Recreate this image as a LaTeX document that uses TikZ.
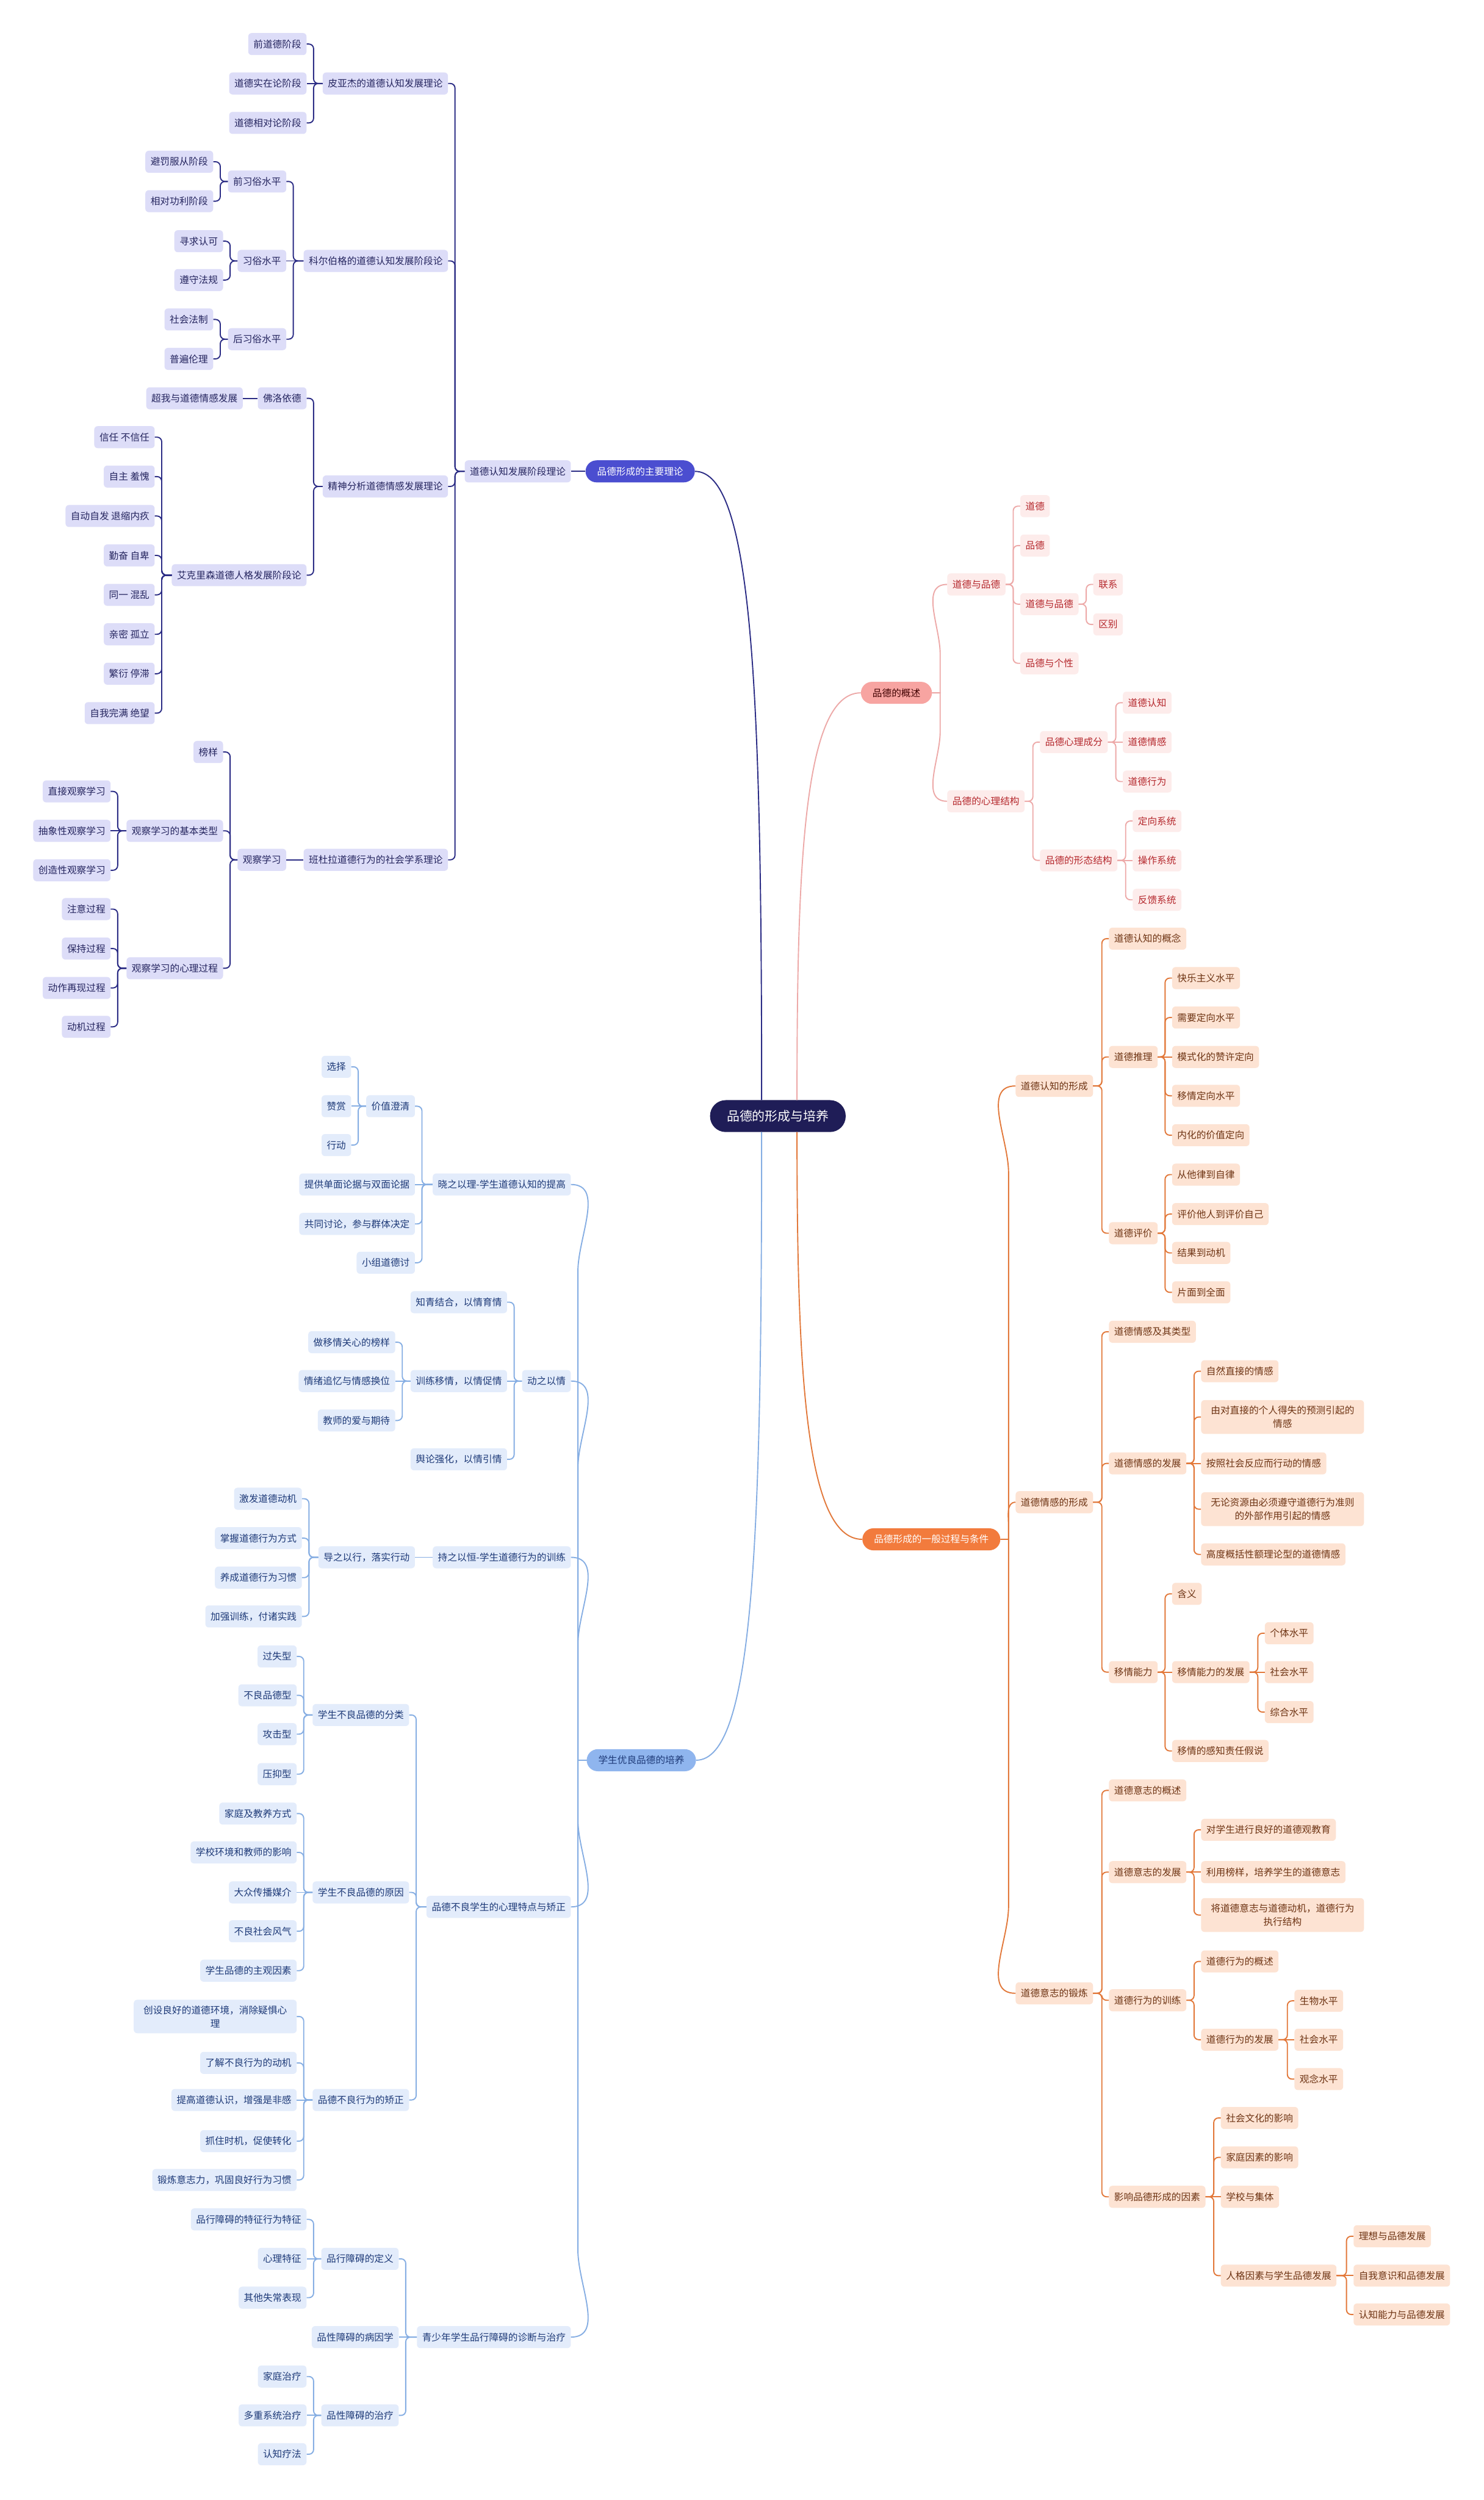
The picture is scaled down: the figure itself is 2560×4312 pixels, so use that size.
\documentclass[tikz,border=0pt]{standalone}
\usepackage{fontspec}
\newfontfamily\cjk{Noto Sans CJK SC}
\definecolor{rootc}{HTML}{1F1D57}
\definecolor{indL}{HTML}{4B4ED0}
\definecolor{indD}{HTML}{2B2C85}
\definecolor{indF}{HTML}{DDDDF8}
\definecolor{indT}{HTML}{25255F}
\definecolor{redL}{HTML}{F7A4A1}
\definecolor{redD}{HTML}{EDA9A8}
\definecolor{redF}{HTML}{FDECEB}
\definecolor{redT}{HTML}{B5282D}
\definecolor{oraL}{HTML}{F27B3D}
\definecolor{oraD}{HTML}{E2783A}
\definecolor{oraF}{HTML}{FDE3D3}
\definecolor{oraT}{HTML}{6E3414}
\definecolor{bluL}{HTML}{8FB5EE}
\definecolor{bluD}{HTML}{86AEE3}
\definecolor{bluF}{HTML}{E3ECFB}
\definecolor{bluT}{HTML}{1E3A78}
\tikzset{
  mmbox/.style={rounded corners=6pt,minimum height=38pt,inner xsep=9pt,inner ysep=10pt},
  indbox/.style={mmbox,fill=indF,text=indT},
  redbox/.style={mmbox,fill=redF,text=redT},
  orabox/.style={mmbox,fill=oraF,text=oraT},
  blubox/.style={mmbox,fill=bluF,text=bluT},
  twoline/.style={text width=263pt,align=center},
  pill/.style={rounded corners=19pt,minimum height=38pt,inner xsep=20pt},
  mmln/.style={line width=2pt,rounded corners=8pt},
  indln/.style={mmln,draw=indD},
  redln/.style={mmln,draw=redD},
  oraln/.style={mmln,draw=oraD},
  bluln/.style={mmln,draw=bluD},
}
\begin{document}
\begin{tikzpicture}[x=1pt,y=-1pt,font=\cjk\fontsize{16.5}{23}\selectfont]
\path[use as bounding box,fill=white] (0,0) rectangle (2560,4312);

\node[fill=rootc,text=white,rounded corners=27pt,minimum height=55pt,inner xsep=29pt,
  font=\cjk\fontsize{22}{26}\selectfont] (root) at (1342,1925) {品德的形成与培养};
\node[pill,fill=indL,text=white,anchor=west] (th) at (1010,813) {品德形成的主要理论};
\node[pill,fill=bluL,text=bluT,anchor=west] (py) at (1012,3036) {学生优良品德的培养};
\node[pill,fill=redL,text=black!75!red,anchor=east] (gs) at (1608,1195) {品德的概述};
\node[pill,fill=oraL,text=white,anchor=east] (gc) at (1726,2655) {品德形成的一般过程与条件};

\draw[line width=2pt,indD] (th.east) .. controls +(100,0) and +(0,-700) .. ([xshift=-28pt]root.north);
\draw[line width=2pt,bluD] ([xshift=-28pt]root.south) .. controls +(0,700) and +(100,0) .. (py.east);
\draw[line width=2pt,redD] ([xshift=33pt]root.north) .. controls +(0,-400) and +(-100,0) .. (gs.west);
\draw[line width=2pt,oraD] ([xshift=33pt]root.south) .. controls +(0,400) and +(-100,0) .. (gc.west);

% 品德形成的主要理论
\node[indbox,anchor=east] (dl) at (985,813) {道德认知发展阶段理论};
\foreach \n/\y/\t in {pa/144/皮亚杰的道德认知发展理论,kb/450/科尔伯格的道德认知发展阶段论,
    ps/839/精神分析道德情感发展理论,bd/1483/班杜拉道德行为的社会学系理论}
  \node[indbox,anchor=east] (\n) at (773,\y) {\t};
\foreach \n/\y/\t in {pa1/76/前道德阶段,pa2/144/道德实在论阶段,pa3/212/道德相对论阶段,
    fr/687/佛洛依德,er/992/艾克里森道德人格发展阶段论}
  \node[indbox,anchor=east] (\n) at (529,\y) {\t};
\foreach \n/\y/\t in {kb1/313/前习俗水平,kb2/450/习俗水平,kb3/585/后习俗水平,obs/1483/观察学习}
  \node[indbox,anchor=east] (\n) at (494,\y) {\t};
\foreach \n/\y/\t in {kb1a/279/避罚服从阶段,kb1b/347/相对功利阶段,kb3a/551/社会法制,kb3b/619/普遍伦理}
  \node[indbox,anchor=east] (\n) at (368,\y) {\t};
\foreach \n/\y/\t in {kb2a/416/寻求认可,kb2b/483/遵守法规,bd0/1297/榜样,
    bd1/1433/观察学习的基本类型,bd2/1670/观察学习的心理过程}
  \node[indbox,anchor=east] (\n) at (385,\y) {\t};
\node[indbox,anchor=east] (fr1) at (419,687) {超我与道德情感发展};
\foreach \n/\y/\t in {er1/754/信任 不信任,er2/822/自主 羞愧,er3/890/自动自发 退缩内疚,er4/958/勤奋 自卑,
    er5/1026/同一 混乱,er6/1094/亲密 孤立,er7/1162/繁衍 停滞,er8/1230/自我完满 绝望}
  \node[indbox,anchor=east] (\n) at (267,\y) {\t};
\foreach \n/\y/\t in {bd1a/1365/直接观察学习,bd1b/1433/抽象性观察学习,bd1c/1501/创造性观察学习,
    bd2a/1568/注意过程,bd2b/1636/保持过程,bd2c/1704/动作再现过程,bd2d/1771/动机过程}
  \node[indbox,anchor=east] (\n) at (191,\y) {\t};

\foreach \p/\c in {th/dl,pa/pa2,kb/kb2,fr/fr1,bd/obs,bd1/bd1b}
  \draw[indln] (\p.west) -- (\c.east);
\foreach \p/\c in {dl/pa,dl/kb,dl/ps,dl/bd,pa/pa1,pa/pa3,kb/kb1,kb/kb3,kb1/kb1a,kb1/kb1b,
    kb2/kb2a,kb2/kb2b,kb3/kb3a,kb3/kb3b,ps/fr,ps/er,er/er1,er/er2,er/er3,er/er4,er/er5,er/er6,
    er/er7,er/er8,obs/bd0,obs/bd1,obs/bd2,bd1/bd1a,bd1/bd1c,bd2/bd2a,bd2/bd2b,bd2/bd2c,bd2/bd2d}
  \draw[indln] (\p.west) -| ([xshift=12pt]\c.east) -- (\c.east);

% 学生优良品德的培养
\foreach \n/\y/\t in {xz/2043/晓之以理-学生道德认知的提高,dq/2382/动之以情,cz/2686/持之以恒-学生道德行为的训练,
    pb/3289/品德不良学生的心理特点与矫正,qs/4031/青少年学生品行障碍的诊断与治疗}
  \node[blubox,anchor=east] (\n) at (985,\y) {\t};
\foreach \n/\y/\t in {vc1/1840/选择,vc2/1908/赞赏,vc3/1975/行动}
  \node[blubox,anchor=east] (\n) at (606,\y) {\t};
\foreach \n/\y/\t in {vc/1908/价值澄清,xz2/2043/提供单面论据与双面论据,xz3/2111/共同讨论，参与群体决定,
    xz4/2178/小组道德讨,dx/2686/导之以行，落实行动}
  \node[blubox,anchor=east] (\n) at (716,\y) {\t};
\foreach \n/\y/\t in {dq1/2246/知青结合，以情育情,dq2/2382/训练移情，以情促情,dq3/2517/舆论强化，以情引情}
  \node[blubox,anchor=east] (\n) at (875,\y) {\t};
\foreach \n/\y/\t in {yq1/2315/做移情关心的榜样,yq2/2382/情绪追忆与情感换位,yq3/2450/教师的爱与期待}
  \node[blubox,anchor=east] (\n) at (682,\y) {\t};
\foreach \n/\y/\t in {dx1/2585/激发道德动机,dx2/2653/掌握道德行为方式,dx3/2721/养成道德行为习惯,dx4/2788/加强训练，付诸实践}
  \node[blubox,anchor=east] (\n) at (521,\y) {\t};
\foreach \n/\y/\t in {fl/2958/学生不良品德的分类,yy/3264/学生不良品德的原因,jz/3622/品德不良行为的矫正}
  \node[blubox,anchor=east] (\n) at (706,\y) {\t};
\foreach \n/\y/\t in {fl1/2857/过失型,fl2/2924/不良品德型,fl3/2991/攻击型,fl4/3060/压抑型,
    yy1/3128/家庭及教养方式,yy2/3195/学校环境和教师的影响,yy3/3264/大众传播媒介,yy4/3331/不良社会风气,
    yy5/3399/学生品德的主观因素,jz2/3558/了解不良行为的动机,jz3/3622/提高道德认识，增强是非感,
    jz4/3693/抓住时机，促使转化,jz5/3760/锻炼意志力，巩固良好行为习惯}
  \node[blubox,anchor=east] (\n) at (512,\y) {\t};
\node[blubox,twoline,anchor=east] (jz1) at (512,3478) {创设良好的道德环境，消除疑惧心\\理};
\foreach \n/\y/\t in {zd/3896/品行障碍的定义,by/4031/品性障碍的病因学,zl/4166/品性障碍的治疗}
  \node[blubox,anchor=east] (\n) at (688,\y) {\t};
\foreach \n/\y/\t in {zd1/3828/品行障碍的特征行为特征,zd2/3896/心理特征,zd3/3963/其他失常表现,
    zl1/4099/家庭治疗,zl2/4166/多重系统治疗,zl3/4233/认知疗法}
  \node[blubox,anchor=east] (\n) at (529,\y) {\t};

\foreach \c/\d/\a in {xz/-150/90,dq/-150/90,cz/-150/90,pb/150/-90,qs/150/-90}
  \draw[line width=2pt,bluD] (py.west) -| ([xshift=12pt,yshift=\d pt]\c.east) to[out=\a,in=0] (\c.east);
\foreach \p/\c in {xz/xz2,vc/vc2,dq/dq2,dq2/yq2,cz/dx,yy/yy3,jz/jz3,qs/by,zd/zd2,zl/zl2}
  \draw[bluln] (\p.west) -- (\c.east);
\foreach \p/\c in {xz/vc,xz/xz3,xz/xz4,vc/vc1,vc/vc3,dq/dq1,dq/dq3,dq2/yq1,dq2/yq3,dx/dx1,dx/dx2,dx/dx3,
    dx/dx4,pb/fl,pb/yy,pb/jz,fl/fl1,fl/fl2,fl/fl3,fl/fl4,yy/yy1,yy/yy2,yy/yy4,yy/yy5,jz/jz1,jz/jz2,
    jz/jz4,jz/jz5,qs/zd,qs/zl,zd/zd1,zd/zd3,zl/zl1,zl/zl3}
  \draw[bluln] (\p.west) -| ([xshift=12pt]\c.east) -- (\c.east);

% 品德的概述
\foreach \n/\y/\t in {dp/1008/道德与品德,xl/1382/品德的心理结构}
  \node[redbox,anchor=west] (\n) at (1634,\y) {\t};
\foreach \n/\y/\t in {dp1/873/道德,dp2/941/品德,dp3/1042/道德与品德,dp4/1144/品德与个性}
  \node[redbox,anchor=west] (\n) at (1760,\y) {\t};
\foreach \n/\y/\t in {lx/1008/联系,qb/1077/区别}
  \node[redbox,anchor=west] (\n) at (1886,\y) {\t};
\foreach \n/\y/\t in {xc/1280/品德心理成分,xt/1484/品德的形态结构}
  \node[redbox,anchor=west] (\n) at (1794,\y) {\t};
\foreach \n/\y/\t in {xc1/1212/道德认知,xc2/1280/道德情感,xc3/1348/道德行为}
  \node[redbox,anchor=west] (\n) at (1937,\y) {\t};
\foreach \n/\y/\t in {xt1/1416/定向系统,xt2/1484/操作系统,xt3/1552/反馈系统}
  \node[redbox,anchor=west] (\n) at (1954,\y) {\t};

\foreach \c/\d/\a in {dp/-120/90,xl/120/-90}
  \draw[line width=2pt,redD] (gs.east) -| ([xshift=-12pt,yshift=\d pt]\c.west) to[out=\a,in=180] (\c.west);
\foreach \p/\c in {xc/xc2,xt/xt2}
  \draw[redln] (\p.east) -- (\c.west);
\foreach \p/\c in {dp/dp1,dp/dp2,dp/dp3,dp/dp4,dp3/lx,dp3/qb,xl/xc,xl/xt,xc/xc1,xc/xc3,xt/xt1,xt/xt3}
  \draw[redln] (\p.east) -| ([xshift=-12pt]\c.west) -- (\c.west);

% 品德形成的一般过程与条件
\foreach \n/\y/\t in {rz/1873/道德认知的形成,qg/2591/道德情感的形成,yz/3438/道德意志的锻炼}
  \node[orabox,anchor=west] (\n) at (1752,\y) {\t};
\foreach \n/\y/\t in {rz1/1619/道德认知的概念,rz2/1823/道德推理,rz3/2127/道德评价,qg1/2297/道德情感及其类型,
    qg2/2524/道德情感的发展,qg3/2884/移情能力,yz1/3088/道德意志的概述,yz2/3229/道德意志的发展,
    yz3/3450/道德行为的训练,yz4/3789/影响品德形成的因素}
  \node[orabox,anchor=west] (\n) at (1913,\y) {\t};
\foreach \n/\y/\t in {tl1/1687/快乐主义水平,tl2/1755/需要定向水平,tl3/1823/模式化的赞许定向,tl4/1890/移情定向水平,
    tl5/1958/内化的价值定向,pj1/2026/从他律到自律,pj2/2094/评价他人到评价自己,pj3/2161/结果到动机,
    pj4/2229/片面到全面,mq1/2749/含义,mq2/2884/移情能力的发展,mq3/3020/移情的感知责任假说}
  \node[orabox,anchor=west] (\n) at (2022,\y) {\t};
\foreach \n/\y/\t in {fz1/2365/自然直接的情感,fz3/2524/按照社会反应而行动的情感,fz5/2681/高度概括性额理论型的道德情感,
    yf1/3156/对学生进行良好的道德观教育,yf2/3229/利用榜样，培养学生的道德意志,xw1/3383/道德行为的概述,
    xw2/3518/道德行为的发展}
  \node[orabox,anchor=west] (\n) at (2072,\y) {\t};
\node[orabox,twoline,anchor=west] (fz2) at (2072,2444) {由对直接的个人得失的预测引起的\\情感};
\node[orabox,twoline,anchor=west] (fz4) at (2072,2603) {无论资源由必须遵守道德行为准则\\的外部作用引起的情感};
\node[orabox,twoline,anchor=west] (yf3) at (2072,3303) {将道德意志与道德动机，道德行为\\执行结构};
\foreach \n/\y/\t in {mq21/2817/个体水平,mq22/2884/社会水平,mq23/2953/综合水平}
  \node[orabox,anchor=west] (\n) at (2182,\y) {\t};
\foreach \n/\y/\t in {xw21/3451/生物水平,xw22/3518/社会水平,xw23/3586/观念水平}
  \node[orabox,anchor=west] (\n) at (2233,\y) {\t};
\foreach \n/\y/\t in {ys1/3653/社会文化的影响,ys2/3721/家庭因素的影响,ys3/3789/学校与集体,ys4/3925/人格因素与学生品德发展}
  \node[orabox,anchor=west] (\n) at (2106,\y) {\t};
\foreach \n/\y/\t in {rg1/3857/理想与品德发展,rg2/3925/自我意识和品德发展,rg3/3992/认知能力与品德发展}
  \node[orabox,anchor=west] (\n) at (2335,\y) {\t};

\foreach \c/\d/\a in {rz/-150/90,qg/-40/90,yz/150/-90}
  \draw[line width=2pt,oraD] (gc.east) -| ([xshift=-12pt,yshift=\d pt]\c.west) to[out=\a,in=180] (\c.west);
\foreach \p/\c in {rz2/tl3,qg2/fz3,qg3/mq2,mq2/mq22,yz2/yf2,xw2/xw22,yz4/ys3,ys4/rg2}
  \draw[oraln] (\p.east) -- (\c.west);
\foreach \p/\c in {rz/rz1,rz/rz2,rz/rz3,rz2/tl1,rz2/tl2,rz2/tl4,rz2/tl5,rz3/pj1,rz3/pj2,rz3/pj3,rz3/pj4,
    qg/qg1,qg/qg2,qg/qg3,qg2/fz1,qg2/fz2,qg2/fz4,qg2/fz5,qg3/mq1,qg3/mq3,mq2/mq21,mq2/mq23,
    yz/yz1,yz/yz2,yz/yz3,yz/yz4,yz2/yf1,yz2/yf3,yz3/xw1,yz3/xw2,xw2/xw21,xw2/xw23,
    yz4/ys1,yz4/ys2,yz4/ys4,ys4/rg1,ys4/rg3}
  \draw[oraln] (\p.east) -| ([xshift=-12pt]\c.west) -- (\c.west);
\end{tikzpicture}
\end{document}
